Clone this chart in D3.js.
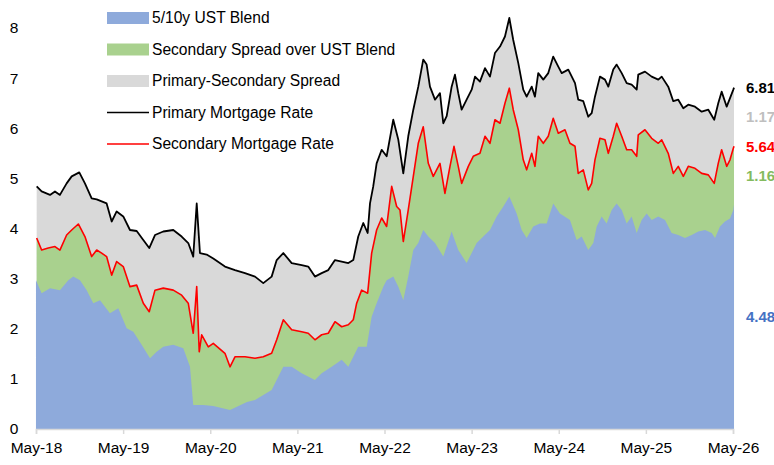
<!DOCTYPE html>
<html>
<head>
<meta charset="utf-8">
<script src="https://cdn.jsdelivr.net/npm/d3@7"></script>
<style>
  body { margin: 0; background: #fff; }
  svg text { font-family: "Liberation Sans", Arial, sans-serif; }
</style>
</head>
<body>
<div id="chart"></div>
<script>
// dates are decimal years, values in %
const primaryDates = [2018.341, 2018.398, 2018.494, 2018.551, 2018.608, 2018.685, 2018.743, 2018.830, 2018.895, 2018.972,
  2019.030, 2019.087, 2019.144, 2019.202, 2019.259, 2019.335, 2019.412, 2019.489, 2019.565, 2019.633,
  2019.699, 2019.794, 2019.909, 2020.005, 2020.081, 2020.138, 2020.178, 2020.215, 2020.292, 2020.368,
  2020.502, 2020.617, 2020.732, 2020.847, 2020.942, 2021.038, 2021.096, 2021.172, 2021.268, 2021.383,
  2021.458, 2021.535, 2021.612, 2021.688, 2021.765, 2021.842, 2021.918, 2021.975, 2022.032, 2022.090,
  2022.140, 2022.167, 2022.204, 2022.243, 2022.301, 2022.358, 2022.434, 2022.492, 2022.549, 2022.606,
  2022.664, 2022.721, 2022.778, 2022.817, 2022.855, 2022.913, 2022.970, 2023.008, 2023.047, 2023.104,
  2023.142, 2023.180, 2023.219, 2023.276, 2023.334, 2023.372, 2023.429, 2023.487, 2023.544, 2023.601,
  2023.659, 2023.716, 2023.766, 2023.811, 2023.869, 2023.926, 2023.965, 2024.023, 2024.060, 2024.098,
  2024.156, 2024.213, 2024.270, 2024.328, 2024.367, 2024.443, 2024.520, 2024.557, 2024.615, 2024.672,
  2024.711, 2024.749, 2024.806, 2024.864, 2024.902, 2024.959, 2024.998, 2025.056, 2025.113, 2025.170,
  2025.228, 2025.246, 2025.323, 2025.400, 2025.476, 2025.515, 2025.590, 2025.648, 2025.705, 2025.763,
  2025.820, 2025.897, 2025.974, 2026.050, 2026.118, 2026.164, 2026.203, 2026.261, 2026.299, 2026.337, 2026.345];
const primaryRate = [4.84, 4.74, 4.67, 4.74, 4.67, 4.90, 5.04, 5.12, 4.90, 4.60,
  4.58, 4.54, 4.50, 4.14, 4.34, 4.24, 3.97, 3.95, 3.77, 3.61,
  3.87, 3.94, 3.97, 3.84, 3.71, 3.44, 4.50, 3.51, 3.48, 3.40,
  3.24, 3.17, 3.11, 3.04, 2.91, 3.04, 3.37, 3.51, 3.31, 3.27,
  3.24, 3.04, 3.11, 3.17, 3.37, 3.34, 3.31, 3.37, 3.84, 4.11,
  3.91, 4.50, 4.84, 5.30, 5.57, 5.44, 6.17, 5.77, 5.10, 5.84,
  6.37, 6.83, 7.37, 7.27, 6.83, 6.57, 6.70, 6.10, 6.24, 6.83,
  7.07, 6.70, 6.37, 6.57, 6.77, 7.03, 6.93, 7.20, 7.03, 7.50,
  7.63, 7.83, 8.20, 7.76, 7.30, 6.77, 6.63, 6.83, 6.63, 7.10,
  6.97, 7.10, 7.43, 7.23, 7.10, 7.17, 6.90, 6.57, 6.54, 6.23,
  6.30, 6.63, 7.03, 6.97, 6.83, 7.17, 7.27, 7.10, 6.90, 6.87,
  6.77, 7.07, 7.13, 7.03, 6.97, 7.03, 6.83, 6.54, 6.57, 6.40,
  6.47, 6.43, 6.33, 6.37, 6.17, 6.50, 6.73, 6.43, 6.60, 6.77, 6.81];

const secondaryDates = [2018.341, 2018.398, 2018.474, 2018.551, 2018.608, 2018.685, 2018.743, 2018.819, 2018.895, 2018.972,
  2019.030, 2019.087, 2019.144, 2019.202, 2019.259, 2019.335, 2019.412, 2019.489, 2019.565, 2019.633,
  2019.699, 2019.794, 2019.909, 2020.005, 2020.081, 2020.138, 2020.178, 2020.207, 2020.235, 2020.311,
  2020.368, 2020.502, 2020.560, 2020.617, 2020.732, 2020.847, 2020.942, 2021.038, 2021.096, 2021.172,
  2021.268, 2021.383, 2021.458, 2021.535, 2021.612, 2021.688, 2021.765, 2021.842, 2021.918, 2021.975,
  2022.014, 2022.071, 2022.140, 2022.186, 2022.243, 2022.301, 2022.358, 2022.416, 2022.473, 2022.511,
  2022.549, 2022.606, 2022.664, 2022.721, 2022.778, 2022.836, 2022.893, 2022.970, 2023.027, 2023.085,
  2023.131, 2023.180, 2023.219, 2023.295, 2023.352, 2023.429, 2023.487, 2023.544, 2023.601, 2023.659,
  2023.716, 2023.766, 2023.811, 2023.869, 2023.926, 2023.965, 2024.023, 2024.060, 2024.098, 2024.156,
  2024.213, 2024.270, 2024.328, 2024.405, 2024.462, 2024.520, 2024.557, 2024.615, 2024.672, 2024.711,
  2024.749, 2024.806, 2024.864, 2024.902, 2024.959, 2024.998, 2025.056, 2025.113, 2025.170, 2025.228,
  2025.246, 2025.323, 2025.400, 2025.476, 2025.515, 2025.590, 2025.648, 2025.705, 2025.763, 2025.820,
  2025.897, 2025.974, 2026.050, 2026.118, 2026.164, 2026.203, 2026.261, 2026.299, 2026.337, 2026.345];
const secondaryRate = [3.81, 3.57, 3.61, 3.64, 3.57, 3.87, 3.97, 4.09, 3.84, 3.44,
  3.57, 3.51, 3.44, 3.07, 3.34, 3.24, 2.84, 2.87, 2.51, 2.34,
  2.77, 2.81, 2.77, 2.67, 2.51, 1.91, 2.84, 1.54, 1.88, 1.64,
  1.71, 1.51, 1.24, 1.44, 1.44, 1.41, 1.44, 1.51, 1.78, 2.18,
  1.98, 1.94, 1.91, 1.78, 1.88, 1.91, 2.14, 2.04, 2.08, 2.18,
  2.51, 2.77, 2.71, 3.51, 3.97, 4.21, 4.04, 4.84, 4.44, 4.37,
  3.74, 4.37, 5.04, 5.70, 6.03, 5.30, 5.04, 5.30, 4.70, 5.24,
  5.64, 5.24, 4.90, 5.24, 5.44, 5.50, 5.84, 5.70, 6.17, 6.10,
  6.50, 6.80, 6.37, 5.97, 5.37, 5.17, 5.50, 5.24, 5.84, 5.70,
  5.84, 6.20, 5.90, 5.97, 5.70, 5.64, 5.10, 5.17, 4.77, 4.90,
  5.37, 5.80, 5.77, 5.50, 5.84, 6.10, 5.84, 5.57, 5.57, 5.44,
  5.87, 5.97, 5.80, 5.70, 5.77, 5.50, 5.10, 5.24, 5.04, 5.24,
  5.20, 5.10, 5.07, 4.90, 5.30, 5.57, 5.24, 5.37, 5.60, 5.64];

const ustDates = [2018.333, 2018.398, 2018.494, 2018.608, 2018.704, 2018.761, 2018.838, 2018.915, 2018.991, 2019.068,
  2019.182, 2019.278, 2019.374, 2019.450, 2019.546, 2019.642, 2019.718, 2019.794, 2019.909, 2020.024,
  2020.101, 2020.138, 2020.253, 2020.368, 2020.560, 2020.755, 2020.847, 2021.038, 2021.172, 2021.268,
  2021.383, 2021.535, 2021.612, 2021.727, 2021.842, 2021.918, 2022.032, 2022.129, 2022.186, 2022.243,
  2022.319, 2022.358, 2022.434, 2022.492, 2022.549, 2022.606, 2022.664, 2022.721, 2022.778, 2022.836,
  2022.913, 2023.008, 2023.104, 2023.180, 2023.276, 2023.391, 2023.467, 2023.544, 2023.621, 2023.697,
  2023.766, 2023.850, 2023.908, 2023.965, 2024.041, 2024.118, 2024.195, 2024.270, 2024.347, 2024.462,
  2024.539, 2024.597, 2024.672, 2024.730, 2024.769, 2024.826, 2024.883, 2024.941, 2024.998, 2025.056,
  2025.113, 2025.170, 2025.228, 2025.285, 2025.343, 2025.400, 2025.476, 2025.553, 2025.629, 2025.705,
  2025.782, 2025.859, 2025.935, 2026.012, 2026.089, 2026.127, 2026.184, 2026.241, 2026.299, 2026.337, 2026.345];
const ustBlend = [2.97, 2.71, 2.81, 2.77, 2.97, 3.04, 2.97, 2.77, 2.51, 2.57,
  2.31, 2.41, 2.01, 1.94, 1.68, 1.41, 1.54, 1.64, 1.68, 1.61,
  1.24, 0.48, 0.48, 0.46, 0.38, 0.54, 0.58, 0.78, 1.24, 1.24,
  1.11, 0.98, 1.11, 1.24, 1.38, 1.24, 1.64, 1.64, 2.24, 2.51,
  2.84, 2.97, 3.04, 2.84, 2.57, 3.04, 3.57, 3.71, 3.97, 3.84,
  3.71, 3.44, 3.94, 3.57, 3.31, 3.71, 3.84, 3.97, 4.24, 4.44,
  4.64, 4.30, 3.97, 3.81, 4.04, 4.10, 4.10, 4.50, 4.30, 4.17,
  3.77, 3.84, 3.57, 3.71, 4.04, 4.24, 4.10, 4.37, 4.50, 4.37,
  4.10, 4.24, 3.91, 4.17, 4.30, 4.17, 4.24, 4.17, 3.91, 3.87,
  3.81, 3.87, 3.94, 3.97, 3.91, 3.81, 4.04, 4.14, 4.20, 4.37, 4.48];

const tickYears = [2018, 2019, 2020, 2021, 2022, 2023, 2024, 2025, 2026];
const yTicks = [0, 1, 2, 3, 4, 5, 6, 7, 8];
const legendNames = ['5/10y UST Blend', 'Secondary Spread over UST Blend', 'Primary-Secondary Spread',
  'Primary Mortgage Rate', 'Secondary Mortgage Rate'];

const width = 774, height = 465;
const margin = { top: 28, right: 41, bottom: 36, left: 36 };

const svg = d3.select('#chart').append('svg')
  .attr('width', width)
  .attr('height', height);

// May of each year sits on a tick
const may = 4 / 12;
const x = d3.scaleLinear()
  .domain([2018 + may, 2026 + may])
  .range([margin.left, width - margin.right]);
const y = d3.scaleLinear()
  .domain([0, 8])
  .range([height - margin.bottom, margin.top]);

const zip = (ds, vs) => ds.map((d, i) => ({ t: d, v: vs[i] }));
const primary = zip(primaryDates, primaryRate);
const secondary = zip(secondaryDates, secondaryRate);
const ust = zip(ustDates, ustBlend);

const area = d3.area()
  .x(d => x(d.t))
  .y0(y(0))
  .y1(d => y(d.v));
const line = d3.line()
  .x(d => x(d.t))
  .y(d => y(d.v));

// painted back to front so the bands stack up
svg.append('path').datum(primary).attr('d', area).attr('fill', '#d9d9d9');
svg.append('path').datum(secondary).attr('d', area).attr('fill', '#a9d18e');
svg.append('path').datum(ust).attr('d', area).attr('fill', '#8eaadb');

svg.append('path').datum(primary).attr('d', line)
  .attr('fill', 'none').attr('stroke', '#000').attr('stroke-width', 1.8).attr('stroke-linejoin', 'round');
svg.append('path').datum(secondary).attr('d', line)
  .attr('fill', 'none').attr('stroke', '#ff0000').attr('stroke-width', 1.6).attr('stroke-linejoin', 'round');

// x axis
const xAxis = d3.axisBottom(x)
  .tickValues(tickYears.map(yr => yr + may))
  .tickSize(5)
  .tickFormat((d, i) => 'May-' + String(tickYears[i]).slice(2));
const gx = svg.append('g')
  .attr('transform', `translate(0,${y(0)})`)
  .call(xAxis);
gx.select('.domain').attr('stroke', '#d9d9d9').attr('stroke-width', 1.5);
gx.selectAll('.tick line').attr('stroke', '#d9d9d9').attr('stroke-width', 1.5);
gx.selectAll('.tick text')
  .attr('dy', '1.05em')
  .style('font-size', '15.5px')
  .attr('fill', '#000');

// y labels only
svg.append('g').selectAll('text')
  .data(yTicks)
  .enter().append('text')
  .attr('x', 14)
  .attr('y', d => y(d))
  .attr('dy', '0.35em')
  .attr('text-anchor', 'middle')
  .style('font-size', '15.5px')
  .text(d => d);

// legend
const legend = svg.append('g').attr('transform', 'translate(107,18)');
const swatchFill = ['#8eaadb', '#a9d18e', '#d9d9d9'];
const lineColors = ['#000', '#ff0000'];
legendNames.forEach((name, i) => {
  const g = legend.append('g').attr('transform', `translate(0,${i * 31.5})`);
  if (i < 3) {
    g.append('rect').attr('x', 0).attr('y', -6).attr('width', 42).attr('height', 12).attr('fill', swatchFill[i]);
  } else {
    g.append('line').attr('x1', 0).attr('x2', 42).attr('y1', 0).attr('y2', 0)
      .attr('stroke', lineColors[i - 3]).attr('stroke-width', 1.5);
  }
  g.append('text')
    .attr('x', 45)
    .attr('y', 0)
    .attr('dy', '0.35em')
    .style('font-size', '15.6px')
    .text(name);
});

// end-of-series labels
const pEnd = primaryRate[primaryRate.length - 1];
const sEnd = secondaryRate[secondaryRate.length - 1];
const uEnd = ustBlend[ustBlend.length - 1];
const endLabels = [
  { v: pEnd, text: pEnd.toFixed(2), color: '#000' },
  { v: (pEnd + sEnd) / 2, text: (pEnd - sEnd).toFixed(2), color: '#bfbfbf' },
  { v: sEnd, text: sEnd.toFixed(2), color: '#ff0000' },
  { v: (sEnd + uEnd) / 2, text: (sEnd - uEnd).toFixed(2), color: '#84bb5f' },
  { v: uEnd / 2, text: uEnd.toFixed(2), color: '#4472c4' }
];
svg.append('g').selectAll('text')
  .data(endLabels)
  .enter().append('text')
  .attr('x', 746)
  .attr('y', d => y(d.v))
  .attr('dy', '0.35em')
  .style('font-size', '15px')
  .style('font-weight', 'bold')
  .attr('fill', d => d.color)
  .text(d => d.text);
</script>
</body>
</html>
